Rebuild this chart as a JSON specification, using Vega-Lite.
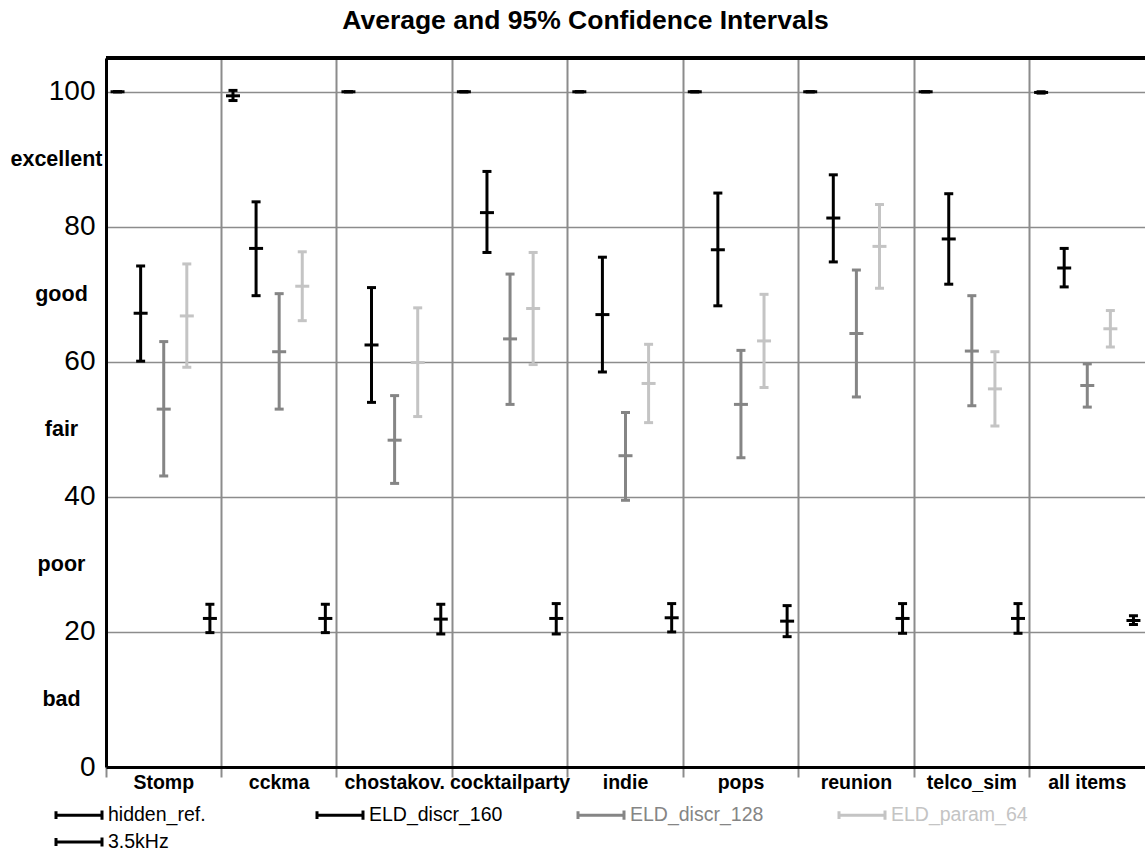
{
  "$schema": "https://vega.github.io/schema/vega-lite/v6.json",
  "autosize": {"type": "none"},
  "padding": {"left": 106, "top": 58, "right": 0, "bottom": 81},
  "width": 1039,
  "height": 709,
  "background": "white",
  "config": {"view": {"stroke": null}, "font": "Liberation Sans"},
  "title": {"text": "Average and 95% Confidence Intervals", "font": "Liberation Sans", "fontSize": 26.5, "fontWeight": "bold", "color": "black", "anchor": "middle", "frame": "group", "dx": -40, "offset": 1, "baseline": "alphabetic"},
  "data": {"values": [
    {"item": "Stomp", "system": "hidden_ref.", "mean": 100, "lo": 100, "hi": 100},
    {"item": "Stomp", "system": "ELD_discr_160", "mean": 67.2, "lo": 60.1, "hi": 74.2},
    {"item": "Stomp", "system": "ELD_discr_128", "mean": 53.0, "lo": 43.1, "hi": 63.0},
    {"item": "Stomp", "system": "ELD_param_64", "mean": 66.8, "lo": 59.2, "hi": 74.5},
    {"item": "Stomp", "system": "3.5kHz", "mean": 22.0, "lo": 19.9, "hi": 24.1},
    {"item": "cckma", "system": "hidden_ref.", "mean": 99.4, "lo": 98.7, "hi": 100.2},
    {"item": "cckma", "system": "ELD_discr_160", "mean": 76.8, "lo": 69.8, "hi": 83.7},
    {"item": "cckma", "system": "ELD_discr_128", "mean": 61.5, "lo": 53.0, "hi": 70.1},
    {"item": "cckma", "system": "ELD_param_64", "mean": 71.2, "lo": 66.1, "hi": 76.3},
    {"item": "cckma", "system": "3.5kHz", "mean": 22.0, "lo": 19.9, "hi": 24.1},
    {"item": "chostakov.", "system": "hidden_ref.", "mean": 100, "lo": 100, "hi": 100},
    {"item": "chostakov.", "system": "ELD_discr_160", "mean": 62.5, "lo": 54.0, "hi": 71.0},
    {"item": "chostakov.", "system": "ELD_discr_128", "mean": 48.4, "lo": 42.0, "hi": 55.0},
    {"item": "chostakov.", "system": "ELD_param_64", "mean": 59.9, "lo": 51.9, "hi": 68.0},
    {"item": "chostakov.", "system": "3.5kHz", "mean": 21.9, "lo": 19.7, "hi": 24.1},
    {"item": "cocktailparty", "system": "hidden_ref.", "mean": 100, "lo": 100, "hi": 100},
    {"item": "cocktailparty", "system": "ELD_discr_160", "mean": 82.1, "lo": 76.2, "hi": 88.2},
    {"item": "cocktailparty", "system": "ELD_discr_128", "mean": 63.4, "lo": 53.7, "hi": 73.0},
    {"item": "cocktailparty", "system": "ELD_param_64", "mean": 67.9, "lo": 59.6, "hi": 76.2},
    {"item": "cocktailparty", "system": "3.5kHz", "mean": 22.0, "lo": 19.7, "hi": 24.2},
    {"item": "indie", "system": "hidden_ref.", "mean": 100, "lo": 100, "hi": 100},
    {"item": "indie", "system": "ELD_discr_160", "mean": 67.0, "lo": 58.5, "hi": 75.5},
    {"item": "indie", "system": "ELD_discr_128", "mean": 46.1, "lo": 39.5, "hi": 52.5},
    {"item": "indie", "system": "ELD_param_64", "mean": 56.8, "lo": 51.0, "hi": 62.6},
    {"item": "indie", "system": "3.5kHz", "mean": 22.1, "lo": 20.0, "hi": 24.2},
    {"item": "pops", "system": "hidden_ref.", "mean": 100, "lo": 100, "hi": 100},
    {"item": "pops", "system": "ELD_discr_160", "mean": 76.6, "lo": 68.3, "hi": 85.0},
    {"item": "pops", "system": "ELD_discr_128", "mean": 53.7, "lo": 45.8, "hi": 61.7},
    {"item": "pops", "system": "ELD_param_64", "mean": 63.1, "lo": 56.2, "hi": 70.0},
    {"item": "pops", "system": "3.5kHz", "mean": 21.6, "lo": 19.3, "hi": 23.9},
    {"item": "reunion", "system": "hidden_ref.", "mean": 100, "lo": 100, "hi": 100},
    {"item": "reunion", "system": "ELD_discr_160", "mean": 81.3, "lo": 74.8, "hi": 87.7},
    {"item": "reunion", "system": "ELD_discr_128", "mean": 64.2, "lo": 54.8, "hi": 73.6},
    {"item": "reunion", "system": "ELD_param_64", "mean": 77.1, "lo": 70.9, "hi": 83.3},
    {"item": "reunion", "system": "3.5kHz", "mean": 22.0, "lo": 19.8, "hi": 24.2},
    {"item": "telco_sim", "system": "hidden_ref.", "mean": 100, "lo": 100, "hi": 100},
    {"item": "telco_sim", "system": "ELD_discr_160", "mean": 78.2, "lo": 71.5, "hi": 84.9},
    {"item": "telco_sim", "system": "ELD_discr_128", "mean": 61.6, "lo": 53.5, "hi": 69.8},
    {"item": "telco_sim", "system": "ELD_param_64", "mean": 56.0, "lo": 50.5, "hi": 61.5},
    {"item": "telco_sim", "system": "3.5kHz", "mean": 22.0, "lo": 19.8, "hi": 24.2},
    {"item": "all items", "system": "hidden_ref.", "mean": 99.9, "lo": 99.8, "hi": 100.0},
    {"item": "all items", "system": "ELD_discr_160", "mean": 73.9, "lo": 71.1, "hi": 76.8},
    {"item": "all items", "system": "ELD_discr_128", "mean": 56.5, "lo": 53.3, "hi": 59.7},
    {"item": "all items", "system": "ELD_param_64", "mean": 64.9, "lo": 62.2, "hi": 67.6},
    {"item": "all items", "system": "3.5kHz", "mean": 21.7, "lo": 21.1, "hi": 22.4}
  ]},
  "encoding": {
    "x": {"field": "item", "type": "nominal", "sort": null,
      "scale": {"paddingInner": 0, "paddingOuter": 0},
      "axis": {"title": null, "bandPosition": 0, "labelAngle": 0, "labelOverlap": false,
        "labelFont": "Liberation Sans", "labelFontSize": 19.5, "labelFontWeight": "bold", "labelColor": "black", "labelPadding": -4, "labelBaseline": "top",
        "grid": true, "gridColor": "#8c8c8c", "gridWidth": 2, "ticks": true, "tickColor": "#8c8c8c", "tickWidth": 2, "tickSize": 10,
        "domain": true, "domainColor": "black", "domainWidth": 3, "zindex": 0}},
    "xOffset": {"field": "system", "type": "nominal", "sort": ["hidden_ref.", "ELD_discr_160", "ELD_discr_128", "ELD_param_64", "3.5kHz"],
      "scale": {"paddingInner": 0, "paddingOuter": 0}},
    "color": {"field": "system", "type": "nominal",
      "scale": {"domain": ["hidden_ref.", "ELD_discr_160", "ELD_discr_128", "ELD_param_64", "3.5kHz"], "range": ["#000000", "#000000", "#858585", "#c4c4c4", "#000000"]},
      "legend": {"title": null, "orient": "none", "legendX": -40, "legendY": 744, "direction": "horizontal", "columns": 4, "gridAlign": "all", "columnPadding": 66, "rowPadding": 3, "padding": 0,
        "symbolType": "M-2,-0.34V0.34M-2,0H2M2,-0.4V0.4", "symbolSize": 529, "symbolStrokeWidth": 3, "symbolFillColor": "transparent",
        "labelFont": "Liberation Sans", "labelFontSize": 19.5, "labelOffset": 16, "labelLimit": 300,
        "encode": {
          "symbols": {"update": {"stroke": {"scale": "color", "field": "value"}, "fill": {"value": "transparent"}, "strokeWidth": {"value": 3}}},
          "labels": {"update": {"fill": {"scale": "color", "field": "value"}}}
        }}}
  },
  "layer": [
    {"mark": {"type": "rule", "color": "black", "strokeWidth": 3},
     "encoding": {"y": {"datum": 105, "type": "quantitative"}, "x": null, "xOffset": null, "color": null}},
    {"mark": {"type": "rule", "strokeWidth": 3},
     "encoding": {
       "y": {"field": "lo", "type": "quantitative", "scale": {"domain": [0, 105], "nice": false, "zero": true},
         "axis": {"title": null, "values": [0, 10, 20, 30, 40, 50, 60, 70, 80, 90, 100], "ticks": false, "labelOverlap": false,
           "labelExpr": "datum.value == 90 ? 'excellent' : datum.value == 70 ? 'good' : datum.value == 50 ? 'fair' : datum.value == 30 ? 'poor' : datum.value == 10 ? 'bad' : datum.label",
           "labelFont": "Liberation Sans", "labelColor": "black", "labelBaseline": "middle",
           "labelFontSize": {"condition": {"test": "datum.value % 20 == 0", "value": 28}, "value": 21.5},
           "labelFontWeight": {"condition": {"test": "datum.value % 20 == 0", "value": "normal"}, "value": "bold"},
           "labelAlign": {"condition": {"test": "datum.value % 20 == 0", "value": "right"}, "value": "center"},
           "labelPadding": {"condition": [{"test": "datum.value % 20 == 0", "value": 11}, {"test": "datum.value == 90", "value": 50}], "value": 45},
           "grid": true, "gridColor": "#8c8c8c", "gridWidth": 1.5,
           "gridOpacity": {"condition": {"test": "datum.value % 20 == 0 && datum.value > 0", "value": 1}, "value": 0},
           "domain": true, "domainColor": "black", "domainWidth": 3}},
       "y2": {"field": "hi"}
     }},
    {"mark": {"type": "tick", "size": 9, "thickness": 3, "opacity": 1},
     "encoding": {"y": {"field": "lo", "type": "quantitative"}}},
    {"mark": {"type": "tick", "size": 9, "thickness": 3, "opacity": 1},
     "encoding": {"y": {"field": "hi", "type": "quantitative"}}},
    {"mark": {"type": "tick", "size": 14, "thickness": 3, "opacity": 1},
     "encoding": {"y": {"field": "mean", "type": "quantitative"}}}
  ]
}
